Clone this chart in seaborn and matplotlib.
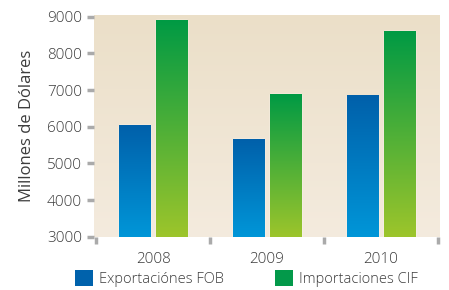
import numpy as np
import pandas as pd
import seaborn as sns
import matplotlib.pyplot as plt
from matplotlib.colors import LinearSegmentedColormap
from matplotlib.patches import Patch

# --- datos ---
anios = ['2008', '2009', '2010']
exportaciones = [6050, 5670, 6850]
importaciones = [8900, 6900, 8620]
series = ['Exportaciónes FOB', 'Importaciones CIF']

df = pd.DataFrame({
    'Año': anios * 2,
    'Valor': exportaciones + importaciones,
    'Serie': [series[0]] * 3 + [series[1]] * 3,
})

sns.set_style('white')
plt.rcParams['font.family'] = ['Open Sans', 'DejaVu Sans']
plt.rcParams['font.weight'] = 'light'

fig = plt.figure(figsize=(4.49, 2.90), dpi=100)
ax = fig.add_axes([94 / 449, 53 / 290, 346 / 449, 222 / 290])

colores = ['#0062AC', '#03994A']
sns.barplot(data=df, x='Año', y='Valor', hue='Serie', palette=colores,
            width=0.65, gap=0.15, ax=ax, legend=False, zorder=2)

# degradados de las barras
cm_azul = LinearSegmentedColormap.from_list('azul', ['#0096D8', '#0060AA'])
cm_verde = LinearSegmentedColormap.from_list('verde', ['#9DC52B', '#009A44'])
grad = np.linspace(0, 1, 256).reshape(-1, 1)
barras = [p for p in ax.patches]
for i, p in enumerate(barras):
    x, y = p.get_x(), 3000
    w, h = p.get_width(), p.get_height()
    cmap = cm_azul if i < 3 else cm_verde
    ax.imshow(grad, extent=[x, x + w, y, h], origin='lower', aspect='auto',
              cmap=cmap, zorder=3)

# fondo
fondo = LinearSegmentedColormap.from_list('fondo', ['#F4EBDE', '#EBDFC8'])
ax.imshow(grad, extent=[0, 1, 0, 1], transform=ax.transAxes, origin='lower',
          aspect='auto', cmap=fondo, zorder=0)

ax.set_xlim(-0.52, 2.52)
ax.set_ylim(2990, 9050)
ax.set_yticks([3000, 4000, 5000, 6000, 7000, 8000, 9000])
ax.set_xticks([0, 1, 2])
ax.set_xticklabels(anios)
ax.set_xticks([-0.5, 0.5, 1.5, 2.5], minor=True)

for s in ax.spines.values():
    s.set_visible(False)

ax.tick_params(axis='y', which='major', direction='out', length=5, width=2.5,
               color='#AAAAAA', pad=3.5, labelsize=11, labelcolor='#3C3C3C', left=True)
ax.tick_params(axis='x', which='major', length=0, pad=11, labelsize=11,
               labelcolor='#3C3C3C')
ax.tick_params(axis='x', which='minor', direction='out', length=5, width=2.5,
               color='#AAAAAA', bottom=True)

ax.set_xlabel('')
ax.set_ylabel('Millones de Dólares', fontsize=12, color='#3C3C3C', labelpad=9)

# leyenda
handles = [Patch(facecolor=c, edgecolor='none') for c in colores]
fig.legend(handles, series, loc='lower left', bbox_to_anchor=(75 / 449, 3 / 290),
           ncol=2, frameon=False, fontsize=10.5, handlelength=1.25, handleheight=1.25,
           handletextpad=0.4, columnspacing=3.5, labelcolor='#3C3C3C',
           borderpad=0, borderaxespad=0)

fig.savefig('out.png', dpi=100)
